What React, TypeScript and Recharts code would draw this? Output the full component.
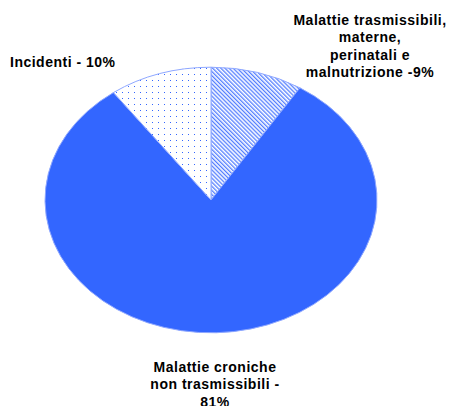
import { PieChart, Pie, Cell } from "recharts";

const categories = [
  "Malattie trasmissibili, materne, perinatali e malnutrizione",
  "Malattie croniche non trasmissibili",
  "Incidenti",
];
const shares = [9, 81, 10];
const labelLines = [
  ["Malattie trasmissibili,", "materne,", "perinatali e", "malnutrizione -9%"],
  ["Malattie croniche", "non trasmissibili -", "81%"],
  ["Incidenti - 10%"],
];

const data = categories.map((name, i) => ({ name, value: shares[i] }));

const BLUE = "#3366ff";
const FILLS = ["url(#hatch)", BLUE, "url(#dots)"];
const Y_SCALE = 0.8; // the pie is drawn squashed, like the original

// where each label sits, relative to the pie centre
const LABEL_LAYOUT = [
  { dx: 159, dy: -175, anchor: "middle" },
  { dx: 4, dy: 172, anchor: "middle" },
  { dx: -201, dy: -133, anchor: "start" },
];

function EllipseSector(props: any) {
  const { cx, cy, outerRadius, startAngle, endAngle, fill, stroke, strokeWidth } = props;
  const rx = outerRadius;
  const ry = outerRadius * Y_SCALE;
  const pt = (a: number) => {
    const r = (-a * Math.PI) / 180;
    return [cx + rx * Math.cos(r), cy + ry * Math.sin(r)];
  };
  const [x0, y0] = pt(startAngle);
  const [x1, y1] = pt(endAngle);
  const large = Math.abs(endAngle - startAngle) > 180 ? 1 : 0;
  const sweep = startAngle > endAngle ? 1 : 0;
  return (
    <path
      d={`M${cx},${cy}L${x0},${y0}A${rx},${ry} 0 ${large} ${sweep} ${x1},${y1}Z`}
      fill={fill}
      stroke={stroke}
      strokeWidth={strokeWidth}
    />
  );
}

function renderLabel(props: any) {
  const { cx, cy, index } = props;
  const pos = LABEL_LAYOUT[index];
  return (
    <text
      x={cx + pos.dx}
      y={cy + pos.dy}
      textAnchor={pos.anchor}
      fill="#000"
      fontFamily="'Liberation Sans', Arial, sans-serif"
      fontWeight="bold"
      fontSize={14}
      letterSpacing={0.5}
    >
      {labelLines[index].map((line, j) => (
        <tspan key={j} x={cx + pos.dx} dy={j === 0 ? 0 : 17.3}>
          {line}
        </tspan>
      ))}
    </text>
  );
}

export default function App() {
  return (
    <div>
      <style>{"body{margin:0}"}</style>
      <PieChart width={452} height={406} margin={{ top: 0, right: 0, bottom: 0, left: 0 }}>
        <defs>
          <pattern id="dots" width="6" height="6" patternUnits="userSpaceOnUse">
            <rect width="6" height="6" fill="#fff" />
            <rect x="2" y="2" width="1" height="1" fill={BLUE} />
          </pattern>
          <pattern
            id="hatch"
            width="2.9"
            height="2.9"
            patternUnits="userSpaceOnUse"
            patternTransform="rotate(-45)"
          >
            <rect width="2.9" height="2.9" fill="#fff" />
            <line x1="0.7" y1="0" x2="0.7" y2="2.9" stroke={BLUE} strokeWidth="1.1" />
          </pattern>
        </defs>
        <Pie
          data={data}
          dataKey="value"
          nameKey="name"
          cx={211}
          cy={200}
          outerRadius={166}
          startAngle={90}
          endAngle={-270}
          stroke="#8fa8ff"
          strokeWidth={1}
          isAnimationActive={false}
          shape={EllipseSector}
          label={renderLabel}
          labelLine={false}
        >
          {data.map((d, i) => (
            <Cell key={d.name} fill={FILLS[i]} />
          ))}
        </Pie>
      </PieChart>
    </div>
  );
}
